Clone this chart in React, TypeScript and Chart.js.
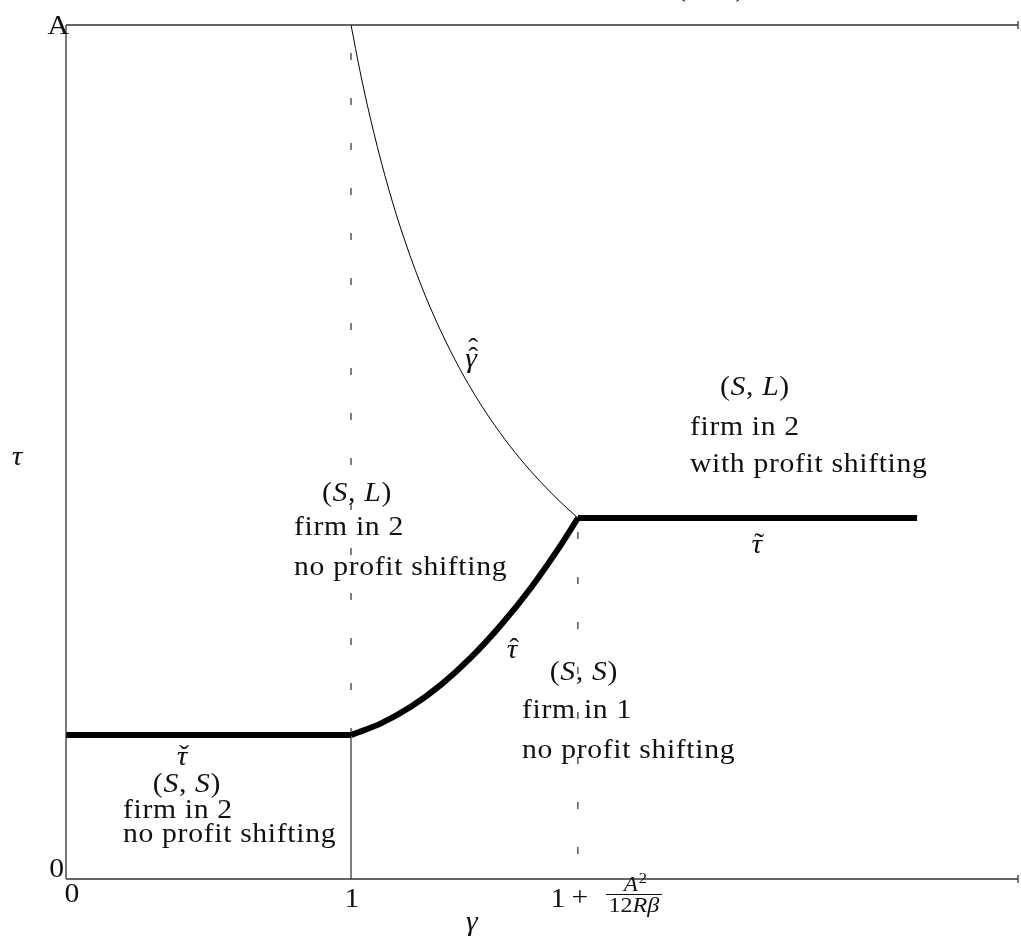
import React, { useEffect, useRef } from "react";
import { Chart, registerables } from "chart.js";

Chart.register(...registerables);

// Axis ranges (gamma horizontal, tau vertical; A normalised to 1)
const gammaMax = 3.34;
const tauMax = 1;
const gammaThreshold = 1.796; // 1 + A^2/(12 R beta)
const gammaTildeEnd = 2.986;

// Levels of the flat thresholds
const tauCheckLevel = 0.1686;
const tauTildeLevel = 0.4227;

// tau-hat curve (between gamma = 1 and the threshold)
const tauHatGamma = [1.0, 1.105, 1.211, 1.316, 1.421, 1.526, 1.632, 1.737, 1.796];
const tauHatTau = [0.1686, 0.1822, 0.2019, 0.2276, 0.2595, 0.2974, 0.3414, 0.3915, 0.4227];

// double-hat gamma curve
const gHatGamma = [1.0, 1.0315, 1.0666, 1.1192, 1.1718, 1.242, 1.3122, 1.3823, 1.4525, 1.5227, 1.5928, 1.663, 1.7332, 1.796];
const gHatTau = [1.0, 0.9459, 0.8926, 0.8233, 0.7645, 0.6985, 0.6436, 0.597, 0.5571, 0.5226, 0.4923, 0.4657, 0.4419, 0.4227];

const FONT = '"Liberation Serif", "Times New Roman", serif';
const SIZE = 27;
const SX = 1.1;

type Seg = { t: string; i?: boolean };

function drawRich(ctx: CanvasRenderingContext2D, segs: Seg[], x: number, y: number, align: "left" | "center" | "right", size = SIZE, spacing = 0.6, sx = SX) {
  const widths = segs.map((s) => {
    ctx.font = `${s.i ? "italic " : ""}${size}px ${FONT}`;
    (ctx as any).letterSpacing = `${spacing}px`;
    return ctx.measureText(s.t).width * sx;
  });
  const total = widths.reduce((a, b) => a + b, 0);
  let cx = align === "left" ? x : align === "center" ? x - total / 2 : x - total;
  ctx.textAlign = "left";
  ctx.textBaseline = "alphabetic";
  segs.forEach((s, k) => {
    ctx.font = `${s.i ? "italic " : ""}${size}px ${FONT}`;
    (ctx as any).letterSpacing = `${spacing}px`;
    ctx.save();
    ctx.translate(cx, y);
    ctx.scale(sx, 1);
    ctx.fillText(s.t, 0, 0);
    ctx.restore();
    cx += widths[k];
  });
  (ctx as any).letterSpacing = "0px";
}

function drawAccented(ctx: CanvasRenderingContext2D, base: string, accent: string, x: number, y: number, extraHats = 0) {
  (ctx as any).letterSpacing = "0px";
  ctx.textAlign = "center";
  ctx.textBaseline = "alphabetic";
  ctx.save();
  ctx.translate(x, y);
  ctx.scale(SX, 1);
  ctx.font = `italic ${SIZE}px ${FONT}`;
  ctx.fillText(base, 0, 0);
  ctx.font = `${SIZE}px ${FONT}`;
  ctx.fillText(accent, 2, -1);
  for (let k = 1; k <= extraHats; k++) ctx.fillText(accent, 2, -1 - 9 * k);
  ctx.restore();
}

type Label = { segs: Seg[]; g: number; t: number; align: "left" | "center" | "right" };

const regionLabels: Label[] = [
  { segs: [{ t: "(" }, { t: "S", i: true }, { t: ", " }, { t: "L", i: true }, { t: ")" }], g: 2.263, t: 1.034, align: "center" },
  { segs: [{ t: "(" }, { t: "S", i: true }, { t: ", " }, { t: "L", i: true }, { t: ")" }], g: 2.417, t: 0.5667, align: "center" },
  { segs: [{ t: "firm in 2" }], g: 2.189, t: 0.5199, align: "left" },
  { segs: [{ t: "with profit shifting" }], g: 2.189, t: 0.4766, align: "left" },
  { segs: [{ t: "(" }, { t: "S", i: true }, { t: ", " }, { t: "L", i: true }, { t: ")" }], g: 1.021, t: 0.4426, align: "center" },
  { segs: [{ t: "firm in 2" }], g: 0.8, t: 0.4028, align: "left" },
  { segs: [{ t: "no profit shifting" }], g: 0.8, t: 0.356, align: "left" },
  { segs: [{ t: "(" }, { t: "S", i: true }, { t: ", " }, { t: "S", i: true }, { t: ")" }], g: 1.817, t: 0.233, align: "center" },
  { segs: [{ t: "firm in 1" }], g: 1.6, t: 0.1885, align: "left" },
  { segs: [{ t: "no profit shifting" }], g: 1.6, t: 0.1417, align: "left" },
  { segs: [{ t: "(" }, { t: "S", i: true }, { t: ", " }, { t: "S", i: true }, { t: ")" }], g: 0.4245, t: 0.1019, align: "center" },
  { segs: [{ t: "firm in 2" }], g: 0.2, t: 0.0714, align: "left" },
  { segs: [{ t: "no profit shifting" }], g: 0.2, t: 0.0433, align: "left" },
];

const curveLabels = [
  { base: "γ", accent: "ˆ", hats: 1, g: 1.421, t: 0.5995 },
  { base: "τ", accent: "˜", hats: 0, g: 2.424, t: 0.3817 },
  { base: "τ", accent: "ˆ", hats: 0, g: 1.565, t: 0.2588 },
  { base: "τ", accent: "ˇ", hats: 0, g: 0.407, t: 0.1335 },
];

const xTickValues = [0, 1];
const xTickLabels = ["0", "1"];

const textPlugin = {
  id: "texts",
  afterDatasetsDraw(chart: any) {
    const ctx: CanvasRenderingContext2D = chart.ctx;
    const xs = chart.scales.x;
    const ys = chart.scales.y;
    const area = chart.chartArea;
    ctx.save();
    ctx.fillStyle = "#111";
    // right-end ticks
    ctx.strokeStyle = "#333";
    ctx.lineWidth = 1.3;
    const xr = xs.getPixelForValue(gammaMax);
    [ys.getPixelForValue(0), ys.getPixelForValue(tauMax)].forEach((py: number) => {
      ctx.beginPath();
      ctx.moveTo(xr, py - 4);
      ctx.lineTo(xr, py + 4);
      ctx.stroke();
    });

    regionLabels.forEach((l) => drawRich(ctx, l.segs, xs.getPixelForValue(l.g), ys.getPixelForValue(l.t), l.align));
    curveLabels.forEach((c) => drawAccented(ctx, c.base, c.accent, xs.getPixelForValue(c.g), ys.getPixelForValue(c.t), c.hats));

    // y-axis labels
    drawRich(ctx, [{ t: "A" }], area.left + 3, ys.getPixelForValue(tauMax) + 9, "right", SIZE, 0);
    drawRich(ctx, [{ t: "0" }], area.left - 2, ys.getPixelForValue(0) - 2, "right", SIZE, 0);
    // x tick labels
    xTickValues.forEach((v, k) => {
      const off = v === 0 ? 6 : 1;
      drawRich(ctx, [{ t: xTickLabels[k] }], xs.getPixelForValue(v) + off, area.bottom + (v === 0 ? 23 : 28), "center", SIZE, 0);
    });
    // threshold label 1 + A^2/(12 R beta)
    const tx = xs.getPixelForValue(gammaThreshold);
    const by = area.bottom + 28;
    drawRich(ctx, [{ t: "1" }], tx - 20, by, "center", SIZE, 0);
    drawRich(ctx, [{ t: "+" }], tx + 2, by - 1, "center", SIZE, 0);
    const fx = tx + 56;
    drawRich(ctx, [{ t: "A", i: true }], fx - 3, area.bottom + 12, "center", 21, 0);
    drawRich(ctx, [{ t: "2" }], fx + 9, area.bottom + 4, "center", 15, 0);
    ctx.strokeStyle = "#111";
    ctx.lineWidth = 1;
    ctx.beginPath();
    ctx.moveTo(fx - 28, area.bottom + 15.5);
    ctx.lineTo(fx + 28, area.bottom + 15.5);
    ctx.stroke();
    drawRich(ctx, [{ t: "12" }, { t: "Rβ", i: true }], fx, area.bottom + 33, "center", 21, 0, 1.15);
    // axis titles
    drawRich(ctx, [{ t: "γ", i: true }], xs.getPixelForValue(1.424), area.bottom + 51, "center", SIZE, 0);
    drawRich(ctx, [{ t: "τ", i: true }], 17, ys.getPixelForValue(0.485), "center", SIZE, 0);
    ctx.restore();
  },
};

function pts(xa: number[], ya: number[]) {
  return xa.map((x, k) => ({ x, y: ya[k] }));
}

export default function App() {
  const ref = useRef<HTMLCanvasElement | null>(null);
  useEffect(() => {
    if (!ref.current) return;
    const black = "#000";
    const axis = "#333";
    const base = { pointRadius: 0, showLine: true, clip: false as any, fill: false };
    const chart = new Chart(ref.current, {
      type: "scatter",
      data: {
        datasets: [
          { ...base, data: [{ x: 0, y: 0 }, { x: 0, y: tauMax }], borderColor: axis, borderWidth: 1.3 },
          { ...base, data: [{ x: 0, y: 0 }, { x: gammaMax, y: 0 }], borderColor: axis, borderWidth: 1.6 },
          { ...base, data: [{ x: 0, y: tauMax }, { x: gammaMax, y: tauMax }], borderColor: axis, borderWidth: 1.6 },
          { ...base, data: [{ x: 1, y: tauCheckLevel }, { x: 1, y: tauMax }], borderColor: black, borderWidth: 1, borderDash: [7, 38] },
          { ...base, data: [{ x: gammaThreshold, y: 0 }, { x: gammaThreshold, y: tauTildeLevel }], borderColor: black, borderWidth: 1, borderDash: [7, 38], borderDashOffset: 20 },
          { ...base, data: [{ x: 1, y: 0 }, { x: 1, y: tauCheckLevel }], borderColor: black, borderWidth: 1 },
          { ...base, data: pts(gHatGamma, gHatTau), borderColor: black, borderWidth: 1, cubicInterpolationMode: "monotone" },
          { ...base, data: [{ x: 0, y: tauCheckLevel }, { x: 1, y: tauCheckLevel }], borderColor: black, borderWidth: 6 },
          { ...base, data: pts(tauHatGamma, tauHatTau), borderColor: black, borderWidth: 6, cubicInterpolationMode: "monotone" },
          { ...base, data: [{ x: gammaThreshold, y: tauTildeLevel }, { x: gammaTildeEnd, y: tauTildeLevel }], borderColor: black, borderWidth: 6 },
        ] as any,
      },
      options: {
        responsive: false,
        maintainAspectRatio: false,
        animation: false,
        layout: { padding: { left: 66, top: 25, right: 3, bottom: 62 } },
        scales: {
          x: { type: "linear", min: 0, max: gammaMax, display: false },
          y: { type: "linear", min: 0, max: tauMax, display: false },
        },
        plugins: { legend: { display: false }, tooltip: { enabled: false } },
      },
      plugins: [textPlugin],
    });
    return () => chart.destroy();
  }, []);
  return (
    <div style={{ position: "absolute", left: 0, top: 0, width: 1021, height: 941, background: "#fff" }}>
      <canvas ref={ref} width={1021} height={941} style={{ width: 1021, height: 941 }} />
    </div>
  );
}
